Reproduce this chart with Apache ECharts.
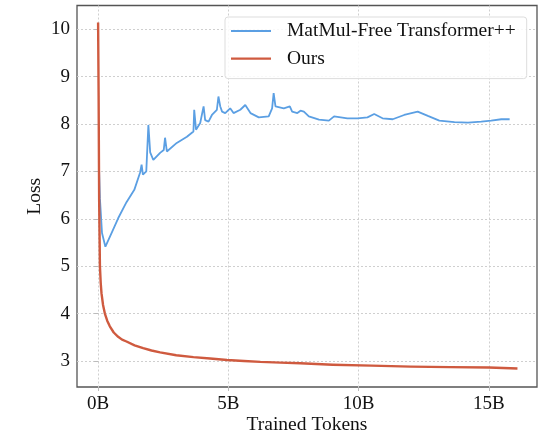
<!DOCTYPE html>
<html>
<head>
<meta charset="utf-8">
<script src="https://cdn.jsdelivr.net/npm/echarts@6/dist/echarts.min.js"></script>
<style>html,body{margin:0;padding:0;background:#fff;}#chart{width:549px;height:434px;}</style>
</head>
<body>
<div id="chart"></div>
<script>
const seriesNames = ['MatMul-Free Transformer++', 'Ours'];
const xTickValues = [0, 5, 10, 15];
const yTickValues = [3, 4, 5, 6, 7, 8, 9, 10];

const matmulTokens = [0.04, 0.07, 0.15, 0.28, 0.52, 0.77, 1.09, 1.39, 1.61, 1.67, 1.72, 1.85, 1.93, 2.0, 2.12, 2.38, 2.52, 2.57, 2.64, 3.02, 3.41, 3.66, 3.69, 3.76, 3.92, 4.05, 4.11, 4.24, 4.37, 4.43, 4.56, 4.62, 4.69, 4.76, 4.88, 5.07, 5.2, 5.46, 5.65, 5.85, 6.17, 6.55, 6.68, 6.74, 6.81, 7.13, 7.36, 7.45, 7.65, 7.77, 7.9, 8.09, 8.48, 8.86, 9.06, 9.57, 9.96, 10.34, 10.6, 10.92, 11.31, 11.75, 12.27, 12.66, 13.1, 13.68, 14.2, 14.71, 15.09, 15.48, 15.8];
const matmulLoss = [7.0, 6.43, 5.7, 5.41, 5.7, 6.01, 6.35, 6.61, 6.97, 7.14, 6.93, 7.0, 7.98, 7.4, 7.24, 7.39, 7.45, 7.71, 7.42, 7.6, 7.73, 7.84, 8.3, 7.88, 8.02, 8.37, 8.08, 8.05, 8.19, 8.23, 8.3, 8.58, 8.37, 8.26, 8.23, 8.33, 8.23, 8.3, 8.4, 8.23, 8.14, 8.16, 8.33, 8.65, 8.37, 8.33, 8.37, 8.26, 8.23, 8.28, 8.26, 8.16, 8.09, 8.07, 8.16, 8.12, 8.12, 8.14, 8.21, 8.12, 8.1, 8.19, 8.26, 8.17, 8.07, 8.04, 8.03, 8.05, 8.07, 8.1, 8.1];

const oursTokens = [0, 0.02, 0.04, 0.07, 0.1, 0.13, 0.19, 0.26, 0.35, 0.45, 0.6, 0.77, 0.92, 1.09, 1.4, 1.73, 2.05, 2.38, 3.0, 3.66, 4.3, 4.95, 5.6, 6.23, 7.0, 7.76, 9.0, 10.5, 12.0, 13.5, 15.0, 16.1];
const oursLoss = [10.14, 8.6, 6.4, 5.0, 4.65, 4.43, 4.18, 4.0, 3.85, 3.73, 3.6, 3.51, 3.45, 3.41, 3.33, 3.27, 3.22, 3.18, 3.12, 3.08, 3.05, 3.02, 3.0, 2.98, 2.965, 2.95, 2.92, 2.9, 2.88, 2.87, 2.86, 2.84];

const pair = (xs, ys) => xs.map((x, i) => [x, ys[i]]);
const font = '"Liberation Serif", "DejaVu Serif", serif';
const textColor = '#111';

const chart = echarts.init(document.getElementById('chart'), null, {renderer: 'canvas'});
chart.setOption({
  animation: false,
  backgroundColor: '#fff',
  grid: {left: 77, right: 12, top: 5.5, bottom: 47, outerBoundsMode: 'none', containLabel: false,
         show: true, borderColor: '#555', borderWidth: 1.3, backgroundColor: 'transparent'},
  legend: {
    data: seriesNames,
    orient: 'vertical',
    left: 225, top: 17,
    padding: [4, 11, 10, 6],
    icon: 'rect',
    itemWidth: 40, itemHeight: 2.2, itemGap: 7.6,
    backgroundColor: 'rgba(255,255,255,0.85)',
    borderColor: '#ddd', borderWidth: 1, borderRadius: 3,
    textStyle: {fontFamily: font, fontSize: 19.5, color: textColor, lineHeight: 20, padding: [0, 0, 0, 11]}
  },
  xAxis: {
    type: 'value', min: -0.81, max: 16.85,
    name: 'Trained Tokens', nameLocation: 'middle', nameGap: 28, nameMoveOverlap: false,
    nameTextStyle: {fontFamily: font, fontSize: 19.5, color: textColor},
    axisLine: {show: false},
    axisTick: {show: true, length: 4, customValues: xTickValues, lineStyle: {color: '#bbb'}},
    axisLabel: {customValues: xTickValues, formatter: v => v + 'B', margin: 8, fontFamily: font, fontSize: 19, color: textColor},
    splitLine: {show: true, lineStyle: {color: '#cfcfcf', type: [2, 2], width: 1}}
  },
  yAxis: {
    type: 'value', min: 2.45, max: 10.5,
    name: 'Loss', nameLocation: 'middle', nameGap: 32, nameMoveOverlap: false,
    nameTextStyle: {fontFamily: font, fontSize: 19.5, color: textColor},
    axisLine: {show: false},
    axisTick: {show: true, length: 4, customValues: yTickValues, lineStyle: {color: '#bbb'}},
    axisLabel: {customValues: yTickValues, margin: 7, fontFamily: font, fontSize: 19, color: textColor},
    splitLine: {show: true, lineStyle: {color: '#cfcfcf', type: [2, 2], width: 1}}
  },
  series: [
    {name: seriesNames[0], type: 'line', data: pair(matmulTokens, matmulLoss), showSymbol: false, symbol: 'none', z: 3,
     lineStyle: {color: '#5b9fe3', width: 1.8}, itemStyle: {color: '#5b9fe3'}},
    {name: seriesNames[1], type: 'line', data: pair(oursTokens, oursLoss), showSymbol: false, symbol: 'none', smooth: false, z: 4,
     lineStyle: {color: '#cf5a3f', width: 2.4, join: 'round'}, itemStyle: {color: '#cf5a3f'}}
  ]
});
</script>
</body>
</html>
